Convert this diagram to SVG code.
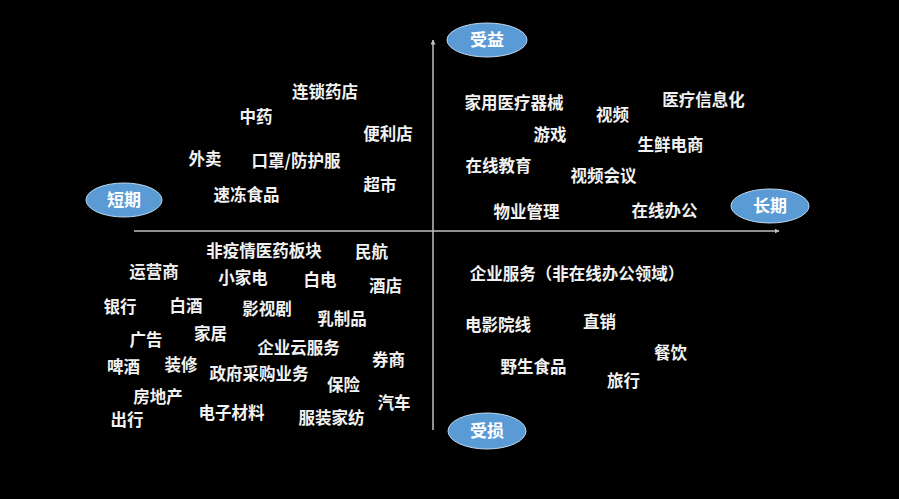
<svg xmlns="http://www.w3.org/2000/svg" width="899" height="499" viewBox="0 0 899 499">
<defs>
<style>
.bg{fill:#000}
.ax{stroke:#bfbfbf;stroke-width:1.5;fill:none}
.ov{fill:#5b9bd5;stroke:#bdd7ee;stroke-width:1}
.ol{fill:#fff;font-family:"Noto Sans CJK SC","Noto Sans",sans-serif;font-weight:bold;font-size:17px;text-anchor:middle}
.t{fill:#f2f2f2;font-family:"Noto Sans CJK SC","Noto Sans",sans-serif;font-weight:bold;font-size:16.5px;text-anchor:middle}
</style>
<marker id="ah" viewBox="0 0 10 10" refX="9" refY="5" markerWidth="5" markerHeight="5" orient="auto" markerUnits="userSpaceOnUse">
<path d="M0,0 L10,5 L0,10 Z" fill="#bfbfbf"/>
</marker>
</defs>
<rect class="bg" x="0" y="0" width="899" height="499"/>
<g id="connectors">
<line class="ax" x1="433" y1="430" x2="433" y2="40" marker-end="url(#ah)"/>
<line class="ax" x1="134" y1="231" x2="779" y2="231" marker-end="url(#ah)"/>
</g>
<g id="benefit"><ellipse class="ov" cx="487" cy="40" rx="40" ry="17"/><text class="ol" x="487" y="46">受益</text></g>
<g id="short"><ellipse class="ov" cx="124" cy="200" rx="38" ry="17"/><text class="ol" x="124" y="206">短期</text></g>
<g id="long"><ellipse class="ov" cx="770" cy="206" rx="39" ry="17"/><text class="ol" x="770" y="212">长期</text></g>
<g id="loss"><ellipse class="ov" cx="487" cy="431" rx="39" ry="18"/><text class="ol" x="487" y="437">受损</text></g>
<g id="q1">
<text class="t" x="325" y="97.5">连锁药店</text>
<text class="t" x="256" y="123">中药</text>
<text class="t" x="388" y="139.5">便利店</text>
<text class="t" x="205" y="164.5">外卖</text>
<text class="t" x="296" y="167">口罩/防护服</text>
<text class="t" x="380" y="190.5">超市</text>
<text class="t" x="246.5" y="201">速冻食品</text>
</g>
<g id="q2">
<text class="t" x="514" y="109">家用医疗器械</text>
<text class="t" x="703.5" y="105.5">医疗信息化</text>
<text class="t" x="612.5" y="120.5">视频</text>
<text class="t" x="550" y="141">游戏</text>
<text class="t" x="670.5" y="151">生鲜电商</text>
<text class="t" x="498.5" y="171.5">在线教育</text>
<text class="t" x="603.5" y="181.5">视频会议</text>
<text class="t" x="526.5" y="218">物业管理</text>
<text class="t" x="664.5" y="217">在线办公</text>
</g>
<g id="q3">
<text class="t" x="264" y="257">非疫情医药板块</text>
<text class="t" x="371.5" y="258">民航</text>
<text class="t" x="154" y="277.5">运营商</text>
<text class="t" x="243" y="283.5">小家电</text>
<text class="t" x="320" y="285.5">白电</text>
<text class="t" x="385.5" y="292">酒店</text>
<text class="t" x="120" y="312.5">银行</text>
<text class="t" x="186" y="312">白酒</text>
<text class="t" x="267" y="314.5">影视剧</text>
<text class="t" x="342" y="324.5">乳制品</text>
<text class="t" x="146" y="346">广告</text>
<text class="t" x="210.5" y="339.5">家居</text>
<text class="t" x="298.5" y="354">企业云服务</text>
<text class="t" x="388.5" y="365.5">券商</text>
<text class="t" x="123.5" y="372.5">啤酒</text>
<text class="t" x="181" y="370.5">装修</text>
<text class="t" x="259" y="379.5">政府采购业务</text>
<text class="t" x="343.5" y="391">保险</text>
<text class="t" x="158" y="402.5">房地产</text>
<text class="t" x="394" y="408.5">汽车</text>
<text class="t" x="231.5" y="418.5">电子材料</text>
<text class="t" x="127" y="426">出行</text>
<text class="t" x="331.5" y="424">服装家纺</text>
</g>
<g id="q4">
<text class="t" x="577" y="279.5">企业服务（非在线办公领域）</text>
<text class="t" x="498" y="331">电影院线</text>
<text class="t" x="599.5" y="327.5">直销</text>
<text class="t" x="670.5" y="358.5">餐饮</text>
<text class="t" x="533.5" y="373">野生食品</text>
<text class="t" x="623.5" y="386.5">旅行</text>
</g>
</svg>
